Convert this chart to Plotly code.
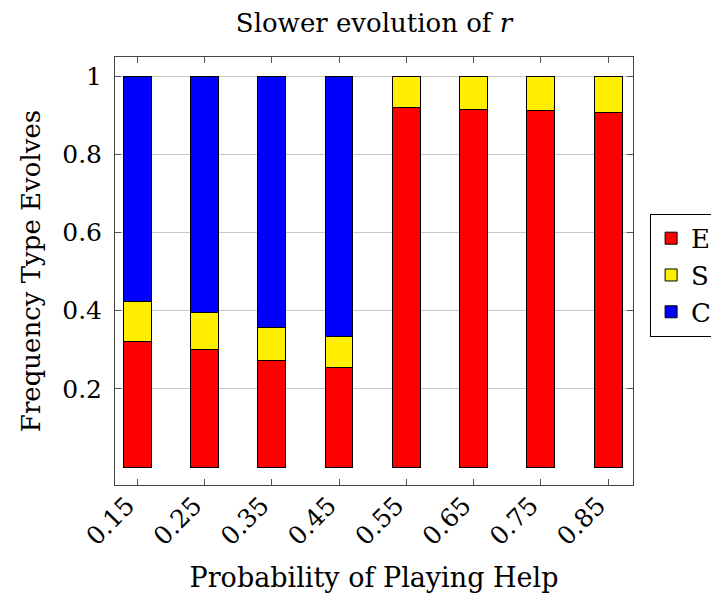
import plotly.graph_objects as go

categories = [0.15, 0.25, 0.35, 0.45, 0.55, 0.65, 0.75, 0.85]
tick_labels = ["0.15", "0.25", "0.35", "0.45", "0.55", "0.65", "0.75", "0.85"]
E_vals = [0.321, 0.300, 0.272, 0.255, 0.921, 0.915, 0.912, 0.907]
S_vals = [0.102, 0.096, 0.084, 0.079, 0.079, 0.085, 0.088, 0.093]
C_vals = [0.577, 0.604, 0.644, 0.666, 0.0, 0.0, 0.0, 0.0]

FONT = "DejaVu Serif"
FS_T = 26   # titles
FS_K = 25   # tick labels

fig = go.Figure()
for name, vals, col in [("E", E_vals, "#FF0000"), ("S", S_vals, "#FFEE00"), ("C", C_vals, "#0000FF")]:
    fig.add_trace(go.Bar(
        x=categories, y=vals, name=name, width=0.0415,
        marker=dict(color=col, line=dict(color="black", width=1)),
    ))

# page has an 8px body margin, so the figure is 8px smaller and offsets shift
fig.update_layout(
    barmode="stack",
    width=711, height=590,
    margin=dict(l=107, r=86, t=49, b=113, autoexpand=False),
    plot_bgcolor="white", paper_bgcolor="white",
    font=dict(family=FONT, size=FS_T, color="black"),
    title=dict(text="Slower evolution of <i>r</i>", x=0.5, xref="paper", xanchor="center",
               y=1 - 15 / 590, yref="container", yanchor="middle", font=dict(size=FS_T)),
    legend=dict(x=1.033, xanchor="left", y=0.49, yanchor="middle",
                traceorder="normal", bordercolor="black", borderwidth=1,
                font=dict(size=FS_T), itemwidth=30, tracegroupgap=0),
    xaxis=dict(
        range=[0.117, 0.887], tickvals=categories, ticktext=tick_labels,
        tickangle=-45, ticks="inside", ticklen=6, tickcolor="#555",
        ticklabelshift=-10, ticklabelstandoff=-5,
        showline=True, linecolor="#444", linewidth=1, mirror="ticks",
        showgrid=False, zeroline=False,
        title=dict(text="Probability of Playing Help", font=dict(size=27), standoff=18),
        tickfont=dict(size=FS_K),
    ),
    yaxis=dict(
        range=[-0.046, 1.049], tickvals=[0.2, 0.4, 0.6, 0.8, 1], ticktext=["0.2", "0.4", "0.6", "0.8", "1"],
        ticks="inside", ticklen=6, tickcolor="#555", ticklabelstandoff=7,
        showline=True, linecolor="#444", linewidth=1, mirror="ticks",
        showgrid=True, gridcolor="#c8c8c8", gridwidth=1, zeroline=False,
        title=dict(text="Frequency Type Evolves", font=dict(size=FS_T), standoff=14),
        tickfont=dict(size=FS_K),
    ),
)

fig.write_html("out.html")
